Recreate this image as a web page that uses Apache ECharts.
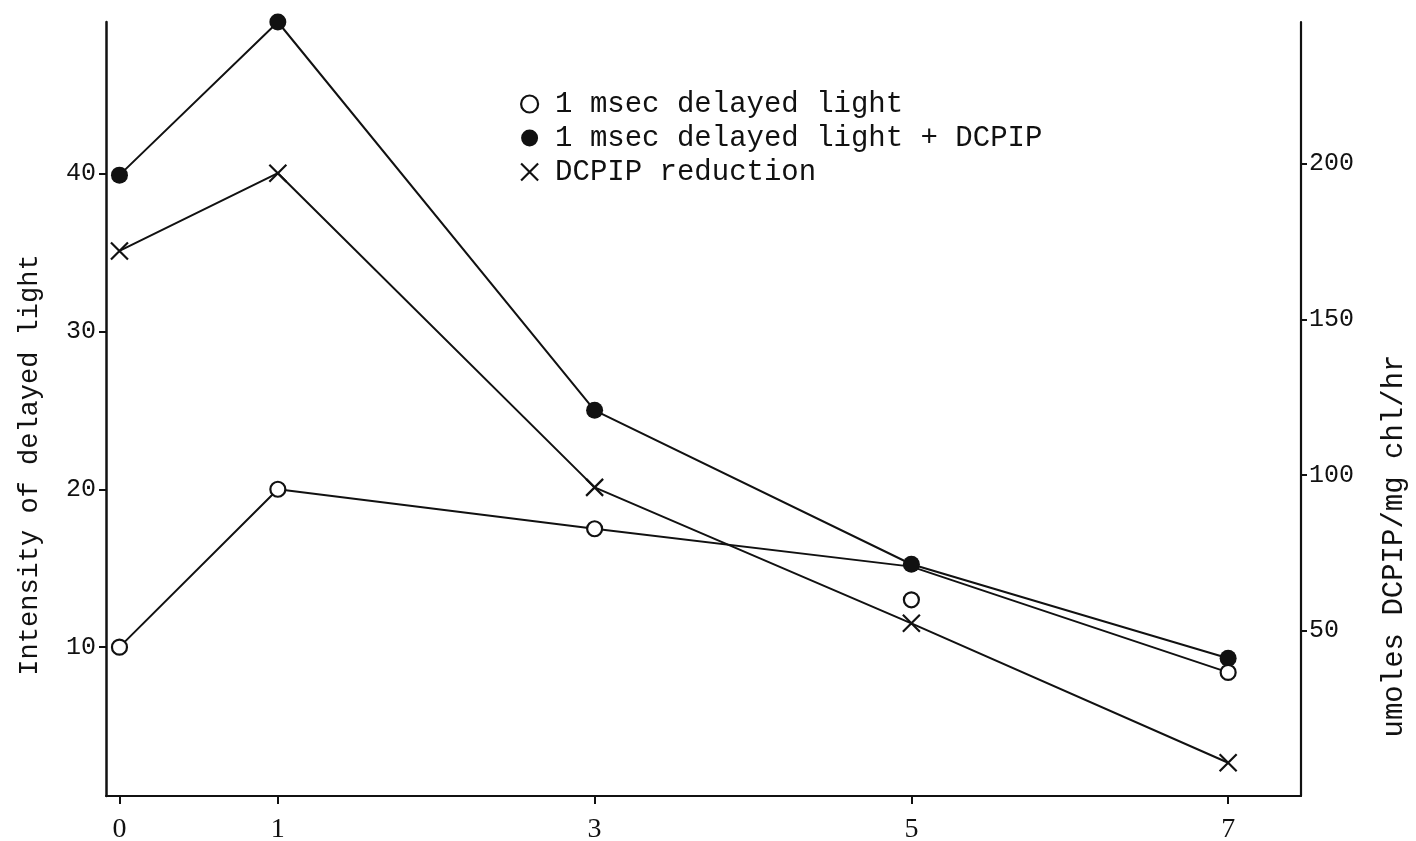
<!DOCTYPE html>
<html>
<head>
<meta charset="utf-8">
<title>Delayed light and DCPIP reduction</title>
<script src="https://cdn.jsdelivr.net/npm/echarts@6/dist/echarts.min.js"></script>
<style>
  html, body { margin: 0; padding: 0; background: #ffffff; }
  #chart { width: 1416px; height: 841px; }
</style>
</head>
<body>
<div id="chart"></div>
<script>
// x positions (time after treatment)
const xValues = [0, 1, 3, 5, 7];
const xTickValues = [0, 1, 3, 5, 7];

// 1 msec delayed light (open circles, left axis)
const delayedLight = [10, 20, 17.5, 13, 8.4];
// drawn curve for the open-circle series (passes through the pooled point at 5)
const delayedLightCurve = [10, 20, 17.5, 15.1, 8.4];

// 1 msec delayed light + DCPIP (filled circles, left axis)
const delayedLightDcpip = [39.9, 49.6, 25.0, 15.25, 9.3];

// DCPIP reduction (crosses, right axis)
const dcpipReduction = [172, 197, 96, 52.3, 7.5];

// axis tick labels
const leftTicks = [10, 20, 30, 40];
const rightTicks = [50, 100, 150, 200];

// series names
const nameOpen = '1 msec delayed light';
const nameFilled = '1 msec delayed light + DCPIP';
const nameCross = 'DCPIP reduction';

const pairs = (ys) => xValues.map((x, i) => [x, ys[i]]);

const crossPath = 'path://M0,0L10,10M10,0L0,10';
const mono = 'Liberation Mono';

const chart = echarts.init(document.getElementById('chart'), null, { renderer: 'canvas' });

chart.setOption({
  backgroundColor: '#ffffff',
  animation: false,
  grid: { left: 106, right: 115, top: 22, bottom: 45, containLabel: false, outerBoundsMode: 'none' },
  legend: {
    orient: 'vertical',
    left: 515,
    top: 84,
    itemWidth: 17,
    itemHeight: 17,
    itemGap: 4,
    selectedMode: false,
    textStyle: {
      fontFamily: mono,
      fontSize: 29,
      color: '#111',
      lineHeight: 30,
      padding: [0, 0, 0, 12]
    },
    data: [
      { name: nameOpen, icon: 'circle',
        itemStyle: { color: '#fff', borderColor: '#111', borderWidth: 2.2 } },
      { name: nameFilled, icon: 'circle',
        itemStyle: { color: '#111', borderWidth: 0 } },
      { name: nameCross, icon: crossPath,
        itemStyle: { color: 'transparent', borderColor: '#111', borderWidth: 2.2 } }
    ]
  },
  xAxis: {
    type: 'value',
    min: -0.085,
    max: 7.46,
    splitLine: { show: false },
    axisLine: { show: true, onZero: false, lineStyle: { color: '#111', width: 2 } },
    axisTick: { show: true, inside: false, length: 8, customValues: xTickValues,
      lineStyle: { color: '#111', width: 2 } },
    axisLabel: { customValues: xTickValues, margin: 20,
      fontFamily: 'Liberation Serif', fontSize: 28, color: '#111' }
  },
  yAxis: [
    {
      type: 'value',
      position: 'left',
      min: 0.57,
      max: 49.6,
      splitLine: { show: false },
      axisLine: { show: true, onZero: false, lineStyle: { color: '#111', width: 2.5 } },
      axisTick: { show: true, length: 7, customValues: leftTicks,
        lineStyle: { color: '#111', width: 2 } },
      axisLabel: { customValues: leftTicks, margin: 10,
        fontFamily: mono, fontSize: 25, color: '#111' }
    },
    {
      type: 'value',
      position: 'right',
      min: -3.2,
      max: 245.6,
      splitLine: { show: false },
      axisLine: { show: true, onZero: false, lineStyle: { color: '#111', width: 2.2 } },
      axisTick: { show: true, length: 6, customValues: rightTicks,
        lineStyle: { color: '#111', width: 2 } },
      axisLabel: { customValues: rightTicks, margin: 8,
        fontFamily: mono, fontSize: 25, color: '#111' }
    }
  ],
  graphic: [
    {
      type: 'text',
      x: 30, y: 465,
      rotation: Math.PI / 2,
      style: {
        text: 'Intensity of delayed light',
        fontFamily: mono, fontSize: 27, fill: '#111',
        align: 'center', verticalAlign: 'middle'
      }
    },
    {
      type: 'text',
      x: 1394, y: 546,
      rotation: Math.PI / 2,
      style: {
        text: 'umoles DCPIP/mg chl/hr',
        fontFamily: mono, fontSize: 29, fill: '#111',
        align: 'center', verticalAlign: 'middle'
      }
    }
  ],
  series: [
    {
      name: nameOpen,
      type: 'line',
      yAxisIndex: 0,
      data: pairs(delayedLightCurve),
      showSymbol: false,
      symbol: 'none',
      clip: false,
      lineStyle: { color: '#111', width: 2 },
      z: 2
    },
    {
      name: nameOpen,
      type: 'scatter',
      yAxisIndex: 0,
      data: pairs(delayedLight),
      symbol: 'circle',
      symbolSize: 15,
      clip: false,
      itemStyle: { color: '#fff', borderColor: '#111', borderWidth: 2.2, opacity: 1 },
      z: 4
    },
    {
      name: nameFilled,
      type: 'line',
      yAxisIndex: 0,
      data: pairs(delayedLightDcpip),
      symbol: 'circle',
      symbolSize: 17,
      showAllSymbol: true,
      clip: false,
      itemStyle: { color: '#111', borderWidth: 0, opacity: 1 },
      lineStyle: { color: '#111', width: 2 },
      z: 3
    },
    {
      name: nameCross,
      type: 'line',
      yAxisIndex: 1,
      data: pairs(dcpipReduction),
      symbol: crossPath,
      symbolSize: 17,
      showAllSymbol: true,
      clip: false,
      itemStyle: { color: 'transparent', borderColor: '#111', borderWidth: 2.2, opacity: 1 },
      lineStyle: { color: '#111', width: 2 },
      z: 3
    }
  ]
});
</script>
</body>
</html>
